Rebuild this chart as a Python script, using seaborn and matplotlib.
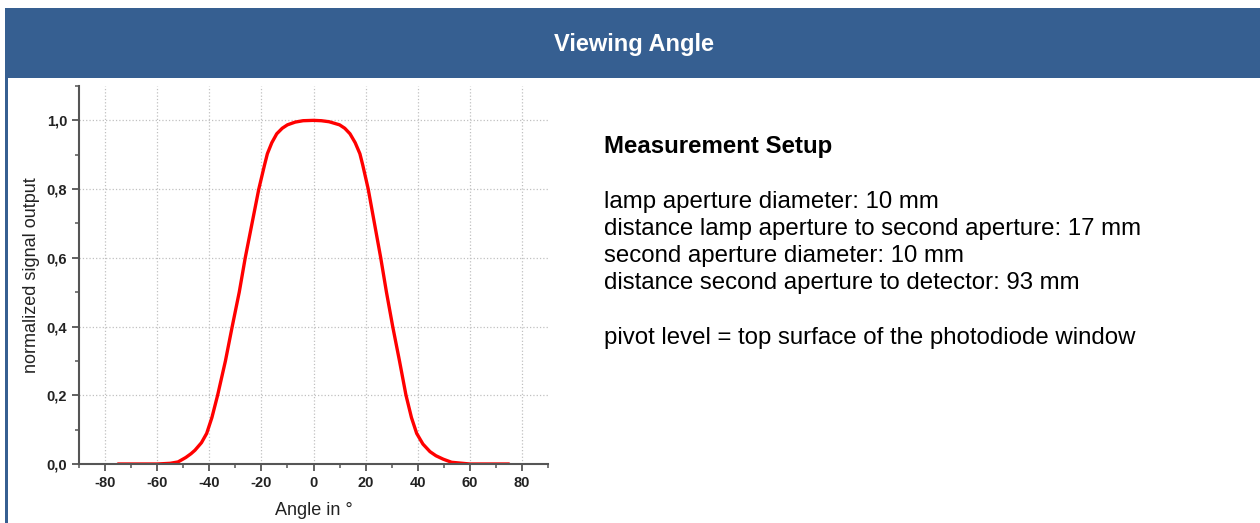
import numpy as np
import pandas as pd
import seaborn as sns
import matplotlib
matplotlib.use("Agg")
import matplotlib.pyplot as plt
import matplotlib.ticker as ticker
from matplotlib.patches import Rectangle

# data
angle = [-75, -60, -55, -52, -49, -47, -45.5, -43, -41, -39, -36.8, -33.8, -31.2,
         -28.5, -26.2, -23.6, -21, -19.9, -18.8, -17.7, -16, -14.1, -12, -10, -7,
         -4, 0, 3, 6, 10, 12, 14, 16, 17.8, 18.9, 19.8, 21, 23.4, 25.8, 28.0, 30.4,
         33.0, 35.5, 37.6, 39.6, 42, 44.7, 47, 49.8, 53, 60, 75]
signal = [0, 0, 0.002, 0.006, 0.019, 0.03, 0.04, 0.062, 0.089, 0.135, 0.2, 0.3, 0.4,
          0.5, 0.6, 0.7, 0.8, 0.835, 0.87, 0.903, 0.935, 0.961, 0.977, 0.987, 0.995,
          0.999, 1.0, 0.999, 0.996, 0.987, 0.977, 0.961, 0.935, 0.903, 0.87, 0.84,
          0.8, 0.7, 0.6, 0.5, 0.4, 0.3, 0.2, 0.135, 0.089, 0.058, 0.036, 0.024, 0.014,
          0.005, 0, 0]
x_ticks = [-80, -60, -40, -20, 0, 20, 40, 60, 80]
y_ticks = [0.0, 0.2, 0.4, 0.6, 0.8, 1.0]

title = "Viewing Angle"
setup_title = "Measurement Setup"
setup_lines = ["lamp aperture diameter: 10 mm",
               "distance lamp aperture to second aperture: 17 mm",
               "second aperture diameter: 10 mm",
               "distance second aperture to detector: 93 mm"]
pivot_line = "pivot level = top surface of the photodiode window"

df = pd.DataFrame({"angle": angle, "signal": signal})

sns.set_style("white")
plt.rcParams['font.family'] = ['Liberation Sans', 'DejaVu Sans']
plt.rcParams['axes.unicode_minus'] = False

W, H = 1260, 523
fig = plt.figure(figsize=(W / 100, H / 100), dpi=100)
header_col = "#365F91"

# header band and left border
fig.patches.append(Rectangle((5 / W, 1 - 78 / H), 1 - 5 / W, 70 / H,
                             transform=fig.transFigure, facecolor=header_col,
                             edgecolor="none", zorder=0))
fig.patches.append(Rectangle((5 / W, 0), 2.5 / W, 1 - 78 / H,
                             transform=fig.transFigure, facecolor=header_col,
                             edgecolor="none", zorder=0))
fig.text(634 / W, 1 - 45 / H, title, color="white", fontsize=17,
         fontweight="bold", ha="center", va="center")

ax = fig.add_axes([79 / W, 59 / H, 469 / W, 378 / H])
sns.lineplot(data=df, x="angle", y="signal", color="red", linewidth=2.4, ax=ax)

ax.set_xlim(-90, 90)
ax.set_ylim(0, 1.1)
ax.set_xticks(x_ticks)
ax.set_yticks(y_ticks)
ax.xaxis.set_minor_locator(ticker.MultipleLocator(10))
ax.yaxis.set_minor_locator(ticker.MultipleLocator(0.1))
ax.yaxis.set_major_formatter(ticker.FuncFormatter(lambda v, p: f"{v:.1f}".replace(".", ",")))
ax.grid(True, which="major", linestyle=":", color="#c0c0c0", linewidth=0.9)
for s in ["top", "right"]:
    ax.spines[s].set_visible(False)
for s in ["left", "bottom"]:
    ax.spines[s].set_color("#555555")
    ax.spines[s].set_linewidth(1.5)
ax.tick_params(which="major", direction="out", length=5, width=1.3, color="#555555",
               labelsize=10.5, labelcolor="#222222", bottom=True, left=True)
ax.tick_params(which="minor", direction="out", length=3, width=1.1, color="#555555",
               bottom=True, left=True)
for lab in ax.get_xticklabels() + ax.get_yticklabels():
    lab.set_fontweight("bold")
ax.set_xlabel("Angle in °", fontsize=13, color="#222222", labelpad=9)
ax.set_ylabel("normalized signal output", fontsize=13, color="#222222", labelpad=5)

fig.text(604 / W, 1 - 146 / H, setup_title, fontsize=17.3, fontweight="bold",
         ha="left", va="center", color="black")
for i, line in enumerate(setup_lines):
    fig.text(604 / W, 1 - (202 + 27 * i) / H, line, fontsize=17.3,
             ha="left", va="center", color="black")
fig.text(604 / W, 1 - 338 / H, pivot_line, fontsize=17.3, ha="left",
         va="center", color="black")

fig.savefig("out.png", dpi=100)
